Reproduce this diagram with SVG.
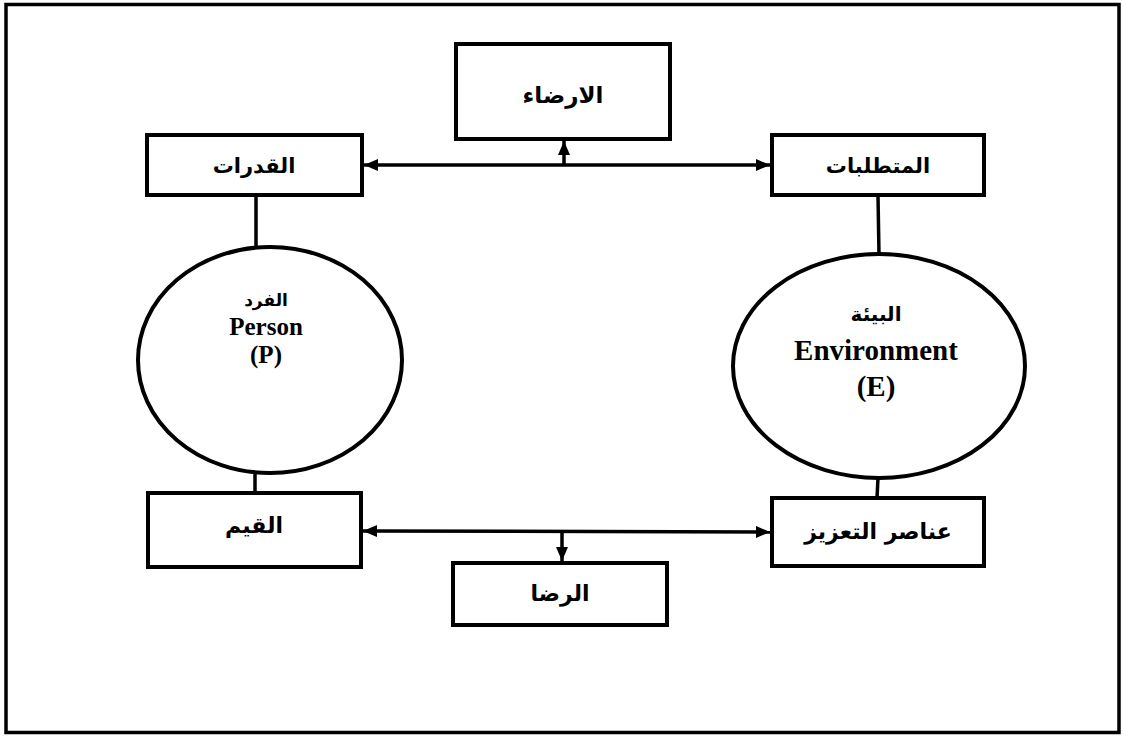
<svg xmlns="http://www.w3.org/2000/svg" width="1124" height="736" viewBox="0 0 1124 736">
<style>
.box{fill:#fff;stroke:#000;stroke-width:4}
.ell{fill:#fff;stroke:#000;stroke-width:4}
.ar{font-family:"DejaVu Sans","Liberation Sans",sans-serif;font-weight:bold;font-size:21px;text-anchor:middle;fill:#000}
.en{font-family:"Liberation Serif","Times New Roman",serif;font-weight:bold;text-anchor:middle;fill:#000}
.ln{stroke:#000;stroke-width:3.5;fill:none}
</style>
<defs>
<marker id="ah" viewBox="0 0 14 12" refX="14" refY="6" markerWidth="14" markerHeight="12" markerUnits="userSpaceOnUse" orient="auto-start-reverse">
<path d="M0,0 L14,6 L0,12 z" fill="#000"/>
</marker>
</defs>
<rect x="6" y="4.5" width="1113" height="728" fill="#fff" stroke="#000" stroke-width="3.5"/>
<g id="connectors">
<line class="ln" x1="364" y1="165" x2="770" y2="165" marker-start="url(#ah)" marker-end="url(#ah)"/>
<line class="ln" x1="564" y1="165" x2="564" y2="141" marker-end="url(#ah)"/>
<line class="ln" x1="363" y1="531" x2="770" y2="532" marker-start="url(#ah)" marker-end="url(#ah)"/>
<line class="ln" x1="562" y1="531" x2="562" y2="561" marker-end="url(#ah)"/>
<line class="ln" x1="256" y1="196" x2="256" y2="249"/>
<line class="ln" x1="878" y1="196" x2="879" y2="255"/>
<line class="ln" x1="255" y1="471" x2="255" y2="493"/>
<line class="ln" x1="878" y1="478" x2="877" y2="498"/>
</g>
<g id="node-irdaa">
<rect class="box" x="456" y="44" width="214" height="95"/>
<text class="ar" x="563" y="103" direction="rtl" style="font-size:23px">الارضاء</text>
</g>
<g id="node-qudurat">
<rect class="box" x="147" y="135" width="215" height="60"/>
<text class="ar" x="254" y="173" direction="rtl">القدرات</text>
</g>
<g id="node-mutatallabat">
<rect class="box" x="772" y="135" width="212" height="60"/>
<text class="ar" x="878" y="173" direction="rtl">المتطلبات</text>
</g>
<g id="node-person">
<ellipse class="ell" cx="270" cy="360" rx="132" ry="113"/>
<text class="ar" x="266" y="306" direction="rtl" style="font-size:17px">الفرد</text>
<text class="en" x="266" y="335" style="font-size:25px">Person</text>
<text class="en" x="266" y="363" style="font-size:25px">(P)</text>
</g>
<g id="node-environment">
<ellipse class="ell" cx="879" cy="366" rx="146" ry="112"/>
<text class="ar" x="876" y="321" direction="rtl" style="font-size:20px">البيئة</text>
<text class="en" x="876" y="360" style="font-size:29px">Environment</text>
<text class="en" x="876" y="396" style="font-size:29px">(E)</text>
</g>
<g id="node-qiyam">
<rect class="box" x="148" y="493" width="213" height="74"/>
<text class="ar" x="254" y="533" direction="rtl" style="font-size:22px">القيم</text>
</g>
<g id="node-tazeez">
<rect class="box" x="772" y="498" width="212" height="68"/>
<text class="ar" x="878" y="539" direction="rtl" style="font-size:22px">عناصر التعزيز</text>
</g>
<g id="node-rida">
<rect class="box" x="453" y="563" width="214" height="62"/>
<text class="ar" x="560" y="601" direction="rtl" style="font-size:22px">الرضا</text>
</g>
</svg>
